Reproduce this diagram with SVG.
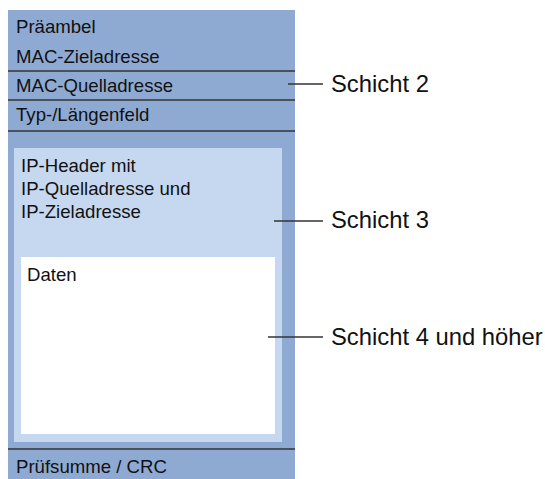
<svg xmlns="http://www.w3.org/2000/svg" width="545" height="479" viewBox="0 0 545 479">
<style>
.t{font-family:"Liberation Sans",Arial,sans-serif;font-size:18.6px;fill:#111}
.l{font-family:"Liberation Sans",Arial,sans-serif;font-size:23.8px;fill:#111}
.div{stroke:#333;stroke-width:1.4}
.con{stroke:#333;stroke-width:1.4}
</style>
<rect width="545" height="479" fill="#fff"/>
<g id="frame">
<rect x="8" y="10" width="287" height="469" fill="#8eaad3"/>
<line class="div" x1="8" y1="71" x2="295" y2="71"/>
<line class="div" x1="8" y1="100" x2="295" y2="100"/>
<line class="div" x1="8" y1="131" x2="295" y2="131"/>
<line class="div" x1="8" y1="449" x2="295" y2="449"/>
<text class="t" x="16" y="33">Präambel</text>
<text class="t" x="16" y="63">MAC-Zieladresse</text>
<text class="t" x="16" y="92">MAC-Quelladresse</text>
<text class="t" x="16" y="121">Typ-/Längenfeld</text>
<text class="t" x="16" y="473">Prüfsumme / CRC</text>
</g>
<g id="ip">
<rect x="14" y="148" width="268" height="294" fill="#c5d8f0"/>
<text class="t" x="21" y="172">IP-Header mit</text>
<text class="t" x="21" y="195">IP-Quelladresse und</text>
<text class="t" x="21" y="218">IP-Zieladresse</text>
</g>
<g id="daten">
<rect x="21" y="257" width="254" height="177" fill="#fff"/>
<text class="t" x="27" y="281">Daten</text>
</g>
<g id="connectors">
<line class="con" x1="288" y1="84" x2="323" y2="84"/>
<line class="con" x1="274" y1="221" x2="323" y2="221"/>
<line class="con" x1="268" y1="337" x2="323" y2="337"/>
</g>
<g id="labels">
<text class="l" x="331" y="92">Schicht 2</text>
<text class="l" x="331" y="228">Schicht 3</text>
<text class="l" x="331" y="345">Schicht 4 und höher</text>
</g>
</svg>
